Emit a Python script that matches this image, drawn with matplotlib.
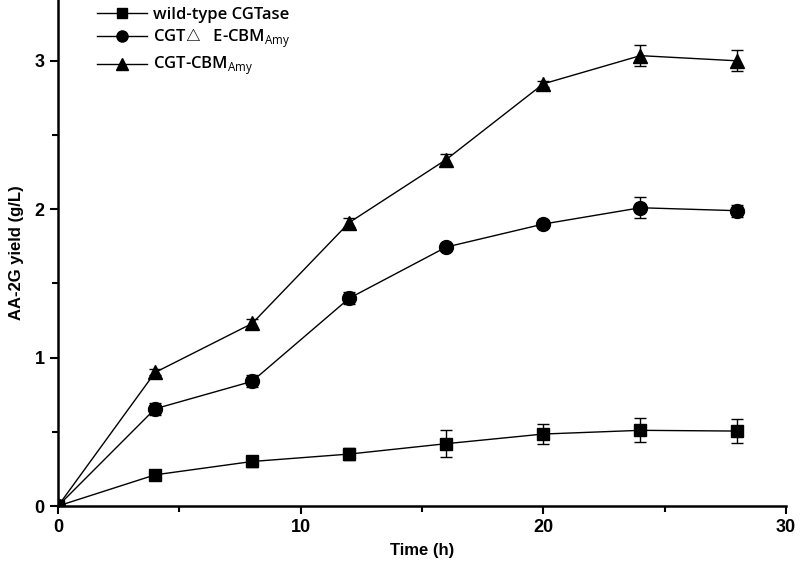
import matplotlib
matplotlib.use("Agg")
import matplotlib.pyplot as plt
from matplotlib.ticker import MultipleLocator
from matplotlib.lines import Line2D

time = [0, 4, 8, 12, 16, 20, 24, 28]
wild = [0, 0.21, 0.30, 0.35, 0.42, 0.485, 0.51, 0.505]
wild_err = [0, 0.02, 0.04, 0.04, 0.09, 0.07, 0.08, 0.08]
cgt_de = [0, 0.655, 0.84, 1.40, 1.745, 1.90, 2.01, 1.99]
cgt_de_err = [0, 0.04, 0.04, 0.04, 0.02, 0.02, 0.07, 0.04]
cgt_cbm = [0, 0.90, 1.23, 1.91, 2.335, 2.845, 3.035, 3.00]
cgt_cbm_err = [0, 0.02, 0.03, 0.03, 0.04, 0.02, 0.07, 0.07]

labels = ["wild-type CGTase",
          "CGT$\\bigtriangleup$   E-CBM$_{\\mathrm{Amy}}$",
          "CGT-CBM$_{\\mathrm{Amy}}$"]

plt.rcParams['font.family'] = ['Liberation Sans Narrow', 'Liberation Sans', 'DejaVu Sans']
plt.rcParams['mathtext.fontset'] = 'custom'
plt.rcParams['mathtext.rm'] = 'Open Sans'
plt.rcParams['mathtext.sf'] = 'Open Sans'

fig = plt.figure(figsize=(8, 5.66), dpi=100)
ax = fig.add_axes([0.0725, 0.106, 0.91, 0.894])

series = [(wild, wild_err, 's', 9), (cgt_de, cgt_de_err, 'o', 10), (cgt_cbm, cgt_cbm_err, '^', 10)]
handles = []
for (vals, err, mk, ms), lab in zip(series, labels):
    ax.errorbar(time, vals, yerr=err, color='black', marker=mk, markersize=ms,
                linewidth=1.0, elinewidth=1.0, capsize=4, capthick=1.0)
    handles.append(Line2D([], [], color='black', marker=mk, markersize=ms * 0.8,
                          linewidth=1.0, label=lab))

ax.set_xlim(0, 30)
ax.set_ylim(0, 3.41)
ax.spines['top'].set_visible(False)
ax.spines['right'].set_visible(False)
for s in ['left', 'bottom']:
    ax.spines[s].set_linewidth(1.8)
ax.xaxis.set_major_locator(MultipleLocator(10))
ax.xaxis.set_minor_locator(MultipleLocator(5))
ax.yaxis.set_major_locator(MultipleLocator(1))
ax.yaxis.set_minor_locator(MultipleLocator(0.5))
ax.tick_params(which='major', direction='out', length=6, width=1.5, labelsize=13)
ax.tick_params(which='minor', direction='out', length=4, width=1.5)
for t in ax.get_xticklabels() + ax.get_yticklabels():
    t.set_fontweight('bold')
ax.set_xlabel("Time (h)", fontsize=12, fontweight='bold', labelpad=5)
ax.set_ylabel("AA-2G yield (g/L)", fontsize=12, fontweight='bold', labelpad=8)

leg = ax.legend(handles=handles, loc='upper left', bbox_to_anchor=(0.103, 1.014),
                bbox_transform=fig.transFigure, frameon=False, fontsize=12,
                handlelength=3.0, labelspacing=0.3, handletextpad=0.35)
for t in leg.get_texts():
    t.set_family(['Open Sans', 'DejaVu Sans'])
    t.set_fontweight('semibold')

fig.savefig("out.png", dpi=100)
